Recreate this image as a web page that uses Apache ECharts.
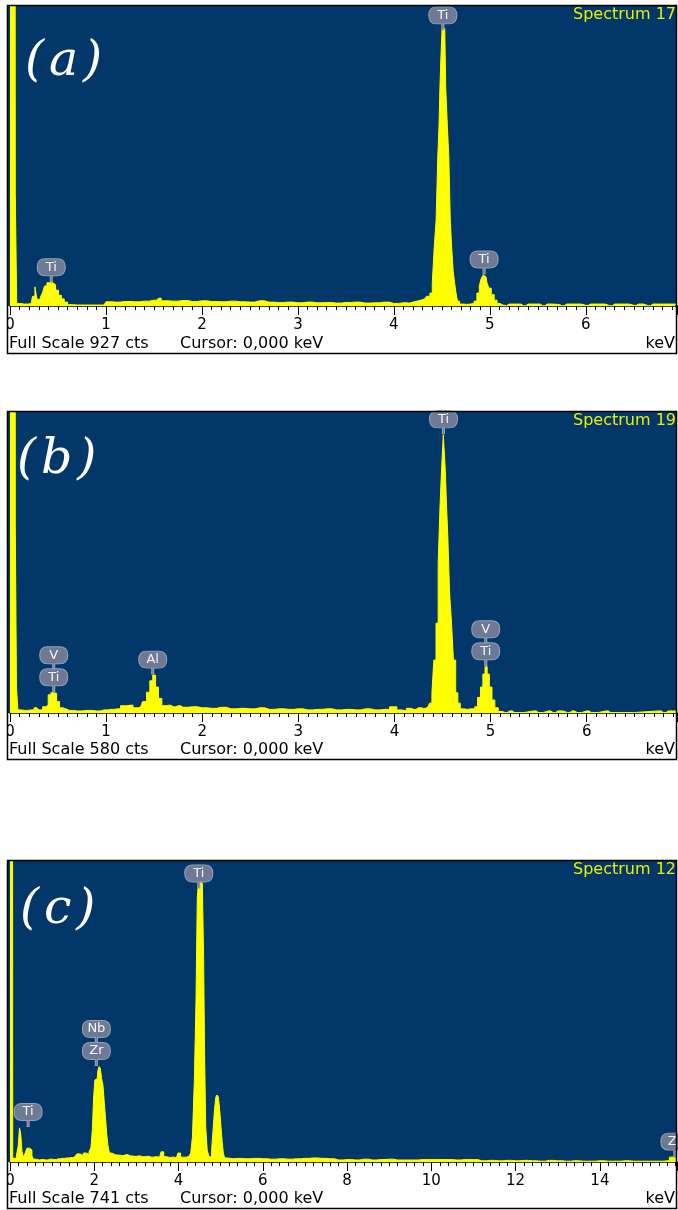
<!DOCTYPE html>
<html><head><meta charset="utf-8">
<script src="https://cdn.jsdelivr.net/npm/echarts@6/dist/echarts.min.js"></script>
<style>html,body{margin:0;padding:0;background:#fff}#c{width:678px;height:1210px}</style>
</head><body><div id="c"></div>
<script>
// ---------- DATA ----------
const panelTags = ['(\u200Aa\u200A)', '(\u200Ab\u200A)', '(\u200Ac\u200A)'];
const spectrumNames = ['Spectrum 17', 'Spectrum 19', 'Spectrum 12'];
const fullScales = [927, 580, 741];          // cts
const energyMax = [6.95, 6.94, 15.83];       // keV
const tickSteps = [1, 1, 2];                 // keV

// [keV, cts]
const spectrumA = [
[0.00,3000],[0.05,3000],[0.06,350],[0.08,8],[0.12,6],[0.18,6],[0.22,7],[0.25,30],[0.27,59],[0.29,22],[0.31,19],[0.33,30],[0.35,42],[0.37,62],[0.40,72],[0.43,72],[0.46,66],[0.49,49],[0.52,33],[0.55,22],[0.58,12],[0.62,4],[0.70,3],[0.80,3],[0.90,3],[0.98,3],
[1.02,13],[1.10,12],[1.20,14],[1.30,13],[1.40,15],[1.50,18],[1.55,24],[1.60,16],[1.70,15],[1.80,17],[1.90,14],[2.00,16],[2.10,14],[2.20,13],[2.30,15],[2.40,13],[2.50,12],[2.60,16],[2.70,12],[2.80,11],[2.90,12],[3.00,10],[3.10,12],[3.20,10],[3.30,11],[3.40,9],[3.50,11],[3.60,12],[3.70,9],[3.80,10],[3.90,12],[4.00,8],[4.10,10],[4.16,9],[4.20,12],[4.24,15],[4.28,18],[4.32,22],[4.36,30],
[4.39,40],[4.41,71],[4.43,180],[4.45,266],[4.465,461],[4.475,554],[4.485,678],[4.495,768],[4.51,858],[4.53,858],[4.55,678],[4.565,554],[4.58,461],[4.595,266],[4.61,179],[4.625,110],[4.64,71],[4.655,40],[4.67,15],[4.70,6],[4.74,5],[4.78,6],
[4.82,8],[4.85,15],[4.88,40],[4.90,62],[4.92,85],[4.94,96],[4.96,90],[4.98,72],[5.00,55],[5.03,35],[5.06,18],[5.09,8],[5.12,3],[5.15,1],
[5.20,6],[5.30,6],[5.35,1],[5.40,6],[5.50,6],[5.55,1],[5.60,6],[5.70,5],[5.75,1],[5.80,6],[5.90,6],[6.00,2],[6.05,6],[6.15,6],[6.25,1],[6.30,6],[6.40,6],[6.50,2],[6.55,6],[6.65,1],[6.70,6],[6.80,6],[6.90,6],[6.95,6]
];
const spectrumB = [
[0.00,3000],[0.05,3000],[0.06,360],[0.075,48],[0.09,6],[0.15,5],[0.22,6],[0.28,10],[0.32,6],[0.36,12],[0.385,15],[0.41,35],[0.44,39],[0.47,38],[0.50,22],[0.53,10],[0.57,7],[0.62,5],[0.70,4],[0.80,5],[0.90,4],[0.98,6],[1.05,7],[1.12,8],[1.18,14],[1.25,15],[1.31,10],[1.36,12],[1.40,22],[1.44,40],[1.47,62],[1.50,73],[1.53,50],[1.56,28],[1.60,14],[1.65,15],[1.70,12],[1.75,14],[1.80,11],[1.90,12],
[2.00,10],[2.10,9],[2.20,11],[2.30,8],[2.40,9],[2.50,8],[2.60,10],[2.70,7],[2.80,8],[2.90,7],[3.00,8],[3.10,6],[3.20,7],[3.30,8],[3.40,6],[3.50,7],[3.60,6],[3.70,8],[3.80,6],[3.90,7],[4.00,12],[4.05,6],[4.10,5],[4.15,9],[4.20,7],[4.25,10],[4.30,9],[4.35,12],
[4.38,19],[4.40,39],[4.42,102],[4.445,173],[4.465,289],[4.483,397],[4.497,468],[4.52,536],[4.538,468],[4.547,397],[4.563,343],[4.585,231],[4.603,173],[4.625,102],[4.65,39],[4.67,19],[4.70,8],[4.74,7],[4.78,8],
[4.82,8],[4.85,12],[4.88,30],[4.91,50],[4.93,75],[4.955,89],[4.975,75],[5.00,50],[5.03,25],[5.06,10],[5.10,3],
[5.15,1],[5.20,4],[5.25,1],[5.45,4],[5.50,1],[5.60,4],[5.65,1],[5.70,4],[5.80,1],[5.85,4],[5.90,1],[6.00,4],[6.05,1],[6.20,4],[6.25,1],[6.75,4],[6.80,1],[6.85,4],[6.94,4]
];
const spectrumC = [
[0.00,3000],[0.05,3000],[0.08,10],[0.14,8],[0.18,12],[0.21,40],[0.24,84],[0.27,70],[0.30,25],[0.34,12],[0.38,22],[0.42,34],[0.46,34],[0.50,30],[0.54,15],[0.58,7],[0.65,5],[0.75,6],[0.85,5],[0.95,7],[1.05,6],[1.15,8],[1.25,9],[1.35,10],[1.45,11],[1.55,14],[1.62,20],[1.70,16],[1.78,22],[1.85,18],[1.90,25],[1.94,35],[1.97,80],[2.00,160],[2.03,202],[2.07,205],[2.10,225],[2.13,235],[2.16,230],[2.19,205],[2.22,190],[2.25,150],[2.28,111],[2.31,70],[2.34,40],[2.38,22],[2.45,18],[2.55,17],[2.65,16],[2.75,18],[2.85,15],[2.95,14],[3.05,15],[3.15,13],[3.25,14],[3.35,12],[3.45,13],[3.55,12],[3.62,25],[3.68,13],[3.75,11],[3.85,12],[3.95,10],[4.02,22],[4.08,12],[4.15,12],[4.22,14],[4.27,18],[4.31,22],
[4.35,62],[4.40,200],[4.43,400],[4.46,650],[4.49,692],[4.52,692],[4.55,692],[4.58,685],[4.61,500],[4.63,251],[4.66,87],[4.70,30],[4.74,14],[4.77,12],
[4.80,30],[4.84,80],[4.87,130],[4.90,160],[4.93,165],[4.96,160],[4.99,130],[5.02,90],[5.05,50],[5.08,20],[5.12,10],
[5.20,8],[5.40,9],[5.60,8],[5.80,9],[6.00,8],[6.20,7],[6.40,8],[6.60,7],[6.80,8],[7.00,9],[7.20,10],[7.40,9],[7.60,8],[7.80,5],[8.00,6],[8.20,5],[8.40,7],[8.60,5],[8.80,6],[9.00,7],[9.20,5],[9.40,5],[9.60,5],[9.80,6],[10.00,6],[10.20,6],[10.40,6],[10.60,5],[10.80,6],[11.00,6],[11.20,3],[11.40,4],[11.60,3],[11.80,4],[12.00,3],[12.20,4],[12.40,3],[12.60,2],[12.80,4],[13.00,3],[13.20,2],[13.40,3],[13.60,2],[13.80,2],[14.00,3],[14.20,2],[14.40,2],[14.60,3],[14.80,2],[15.00,2],[15.20,2],[15.40,2],[15.60,3],[15.70,12],[15.78,12],[15.83,5]
];

// peak labels: energy, count at label stem tip, element names from top to bottom
const labelsA = [
  {keV:0.43, cts:72, el:['Ti']},
  {keV:4.51, cts:850, el:['Ti']},
  {keV:4.94, cts:96, el:['Ti']}
];
const labelsB = [
  {keV:0.455, cts:39, el:['V','Ti']},
  {keV:1.485, cts:73, el:['Al']},
  {keV:4.51, cts:536, el:['Ti']},
  {keV:4.95, cts:89, el:['V','Ti']}
];
const labelsC = [
  {keV:0.43, cts:85, el:['Ti']},
  {keV:2.05, cts:235, el:['Nb','Zr']},
  {keV:4.48, cts:672, el:['Ti']},
  {keV:15.78, cts:12, el:['Zr']}
];

const spectra = [spectrumA, spectrumB, spectrumC];
const peakLabels = [labelsA, labelsB, labelsC];

// ---------- LAYOUT / STYLE ----------
const BLUE = '#02376a', YELLOW = '#ffff00';
const layout = [
  {frameTop:5,   frameBottom:353,  plotTop:6,   plotH:300, tagX:25, tagY:62},
  {frameTop:411, frameBottom:759,  plotTop:412, plotH:301, tagX:17, tagY:460},
  {frameTop:860, frameBottom:1208, plotTop:861, plotH:301, tagX:20, tagY:910}
];
const PILL = 'path://M8,0 L20,0 Q28,0 28,8.5 Q28,17 20,17 L15,17 L15,23 L13,23 L13,17 L8,17 Q0,17 0,8.5 Q0,0 8,0 Z';

const grids = [], xAxes = [], yAxes = [], series = [], graphics = [];
layout.forEach((L, i) => {
  grids.push({left:10, top:L.plotTop, width:667, height:L.plotH, outerBoundsMode:'none', containLabel:false});
  xAxes.push({
    gridIndex:i, type:'value', min:0, max:energyMax[i], interval:tickSteps[i],
    axisLine:{show:true, onZero:false, lineStyle:{color:'#000', width:1.5}},
    axisTick:{show:true, length:9, lineStyle:{color:'#000', width:1}},
    minorTick:{show:true, splitNumber:10, length:4, lineStyle:{color:'#000', width:1}},
    splitLine:{show:false}, minorSplitLine:{show:false},
    axisLabel:{color:'#000', fontSize:15, fontFamily:'DejaVu Sans', margin:12, showMaxLabel:false,
      formatter: v => (Math.abs(v - Math.round(v)) < 1e-9 ? String(Math.round(v)) : '')}
  });
  yAxes.push({gridIndex:i, type:'value', min:0, max:fullScales[i], show:false});

  const mp = [];
  peakLabels[i].forEach(p => {
    p.el.forEach((name, j) => {
      const level = p.el.length - 1 - j;
      mp.push({name:name, coord:[p.keV, p.cts], symbolOffset:[0, -12.5 - 22 * level]});
    });
  });
  series.push({
    type:'line', xAxisIndex:i, yAxisIndex:i, data:spectra[i], step:'middle',
    symbol:'none', silent:true, clip:true,
    lineStyle:{color:YELLOW, width:1}, itemStyle:{color:YELLOW},
    areaStyle:{color:YELLOW, opacity:1},
    markPoint:{
      symbol:PILL, symbolSize:[28,23], silent:true, animation:false,
      itemStyle:{color:'#6e7a94', borderColor:'#93a0b7', borderWidth:1},
      label:{show:true, position:'inside', formatter:'{b}', color:'#f4f6f8', fontSize:13, fontFamily:'DejaVu Sans', offset:[0,-3]},
      data:mp
    }
  });

  // background, frame and texts
  graphics.push({type:'rect', z:-10, shape:{x:8, y:L.plotTop, width:669, height:L.plotH}, style:{fill:BLUE}});
  graphics.push({type:'rect', z:50, shape:{x:0, y:L.frameTop, width:7, height:L.frameBottom - L.frameTop + 2}, style:{fill:'#fff'}});
  graphics.push({type:'rect', z:60, shape:{x:7.5, y:L.frameTop + 0.5, width:669, height:L.frameBottom - L.frameTop}, style:{fill:'none', stroke:'#000', lineWidth:1.5}});
  graphics.push({type:'text', z:60, x:L.tagX, y:L.tagY, style:{text:panelTags[i], fill:'#fff', font:'italic 49px "DejaVu Serif"', align:'left', verticalAlign:'middle'}});
  graphics.push({type:'text', z:60, x:676, y:L.plotTop + 9, style:{text:spectrumNames[i], fill:'#eeee00', font:'16px "DejaVu Sans"', align:'right', verticalAlign:'middle'}});
  const fy = L.frameBottom - 9.5;
  graphics.push({type:'text', z:60, x:9, y:fy, style:{text:'Full Scale ' + fullScales[i] + ' cts', fill:'#000', font:'16px "DejaVu Sans"', align:'left', verticalAlign:'middle'}});
  graphics.push({type:'text', z:60, x:180, y:fy, style:{text:'Cursor: 0,000 keV', fill:'#000', font:'16px "DejaVu Sans"', align:'left', verticalAlign:'middle'}});
  graphics.push({type:'text', z:60, x:675, y:fy, style:{text:'keV', fill:'#000', font:'16px "DejaVu Sans"', align:'right', verticalAlign:'middle'}});
});

const chart = echarts.init(document.getElementById('c'), null, {renderer:'canvas'});
chart.setOption({
  animation:false,
  backgroundColor:'#fff',
  grid:grids, xAxis:xAxes, yAxis:yAxes, series:series,
  graphic:{elements:graphics}
});
</script></body></html>
